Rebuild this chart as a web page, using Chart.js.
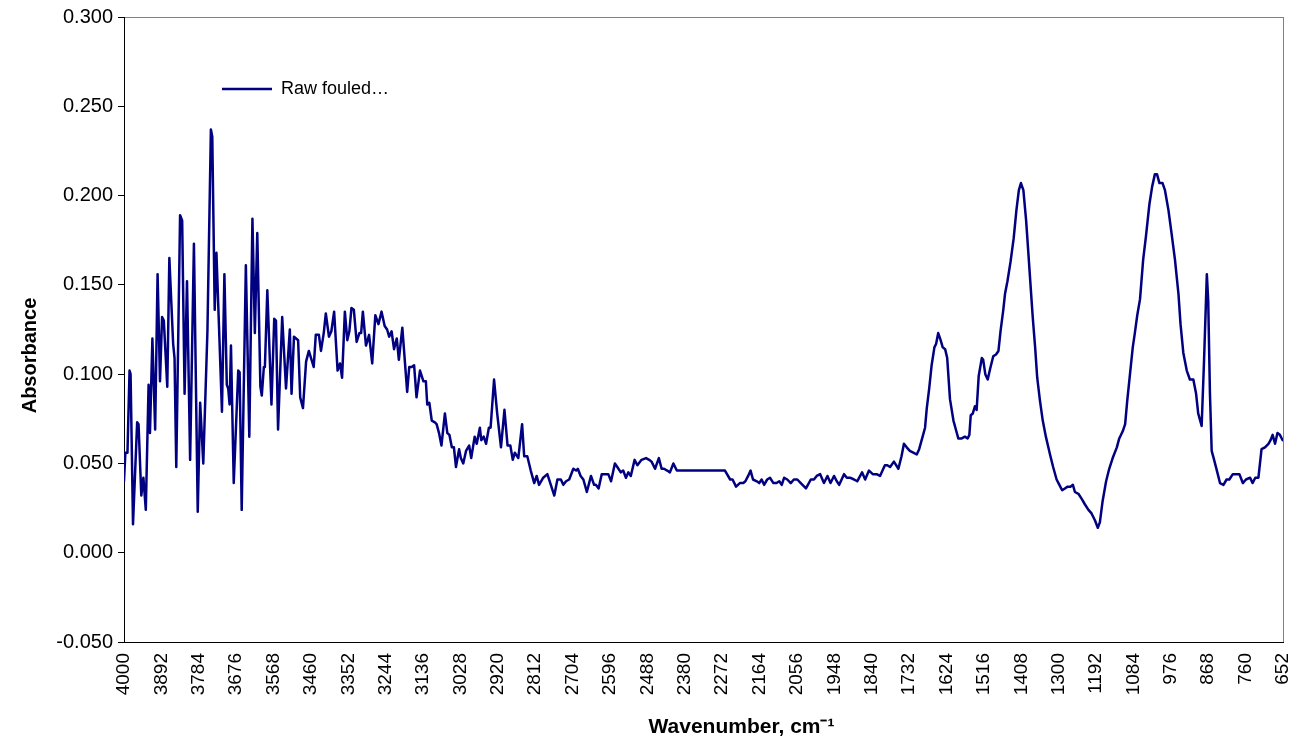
<!DOCTYPE html>
<html><head><meta charset="utf-8">
<script src="https://cdn.jsdelivr.net/npm/chart.js@4.4.1/dist/chart.umd.min.js"></script>
<style>html,body{margin:0;padding:0;background:#fff;}canvas{display:block;}</style>
</head><body>
<canvas id="c" width="1302" height="745"></canvas>
<script>
const seriesLabel = 'Raw fouled…';
const xTitle = 'Wavenumber, cm⁻¹';
const yTitle = 'Absorbance';

const wavenumber = [
4000,3996,3990,3984,3981,3974,3962,3958,3950,3944,3937,3929,3925,3918,3910,3903,3896,3890,3885,3875,
3869,3858,3854,3849,3838,3832,3825,3818,3809,3798,3787,3780,3771,3759,3749,3745,3738,3733,3717,3710,
3703,3699,3695,3691,3683,3670,3666,3660,3648,3638,3629,3622,3615,3606,3602,3596,3593,3586,3574,3566,
3561,3555,3543,3532,3521,3516,3509,3503,3497,3491,3483,3474,3466,3452,3446,3437,3431,3423,3417,3408,
3401,3393,3383,3376,3370,3362,3355,3349,3343,3336,3328,3320,3315,3310,3301,3292,3283,3274,3265,3256,
3247,3240,3234,3227,3220,3212,3206,3196,3182,3176,3169,3162,3155,3145,3135,3128,3124,3118,3111,3102,
3097,3090,3083,3073,3066,3060,3053,3047,3041,3032,3027,3020,3012,3003,2997,2987,2981,2972,2968,2961,
2954,2946,2941,2931,2922,2911,2901,2892,2884,2877,2871,2861,2850,2844,2835,2825,2815,2808,2801,2789,
2777,2767,2757,2748,2738,2731,2723,2714,2702,2694,2689,2681,2673,2663,2651,2642,2637,2629,2620,2611,
2601,2593,2582,2575,2565,2558,2550,2543,2536,2525,2517,2505,2492,2483,2476,2466,2455,2447,2440,2431,
2423,2413,2403,2399,2264,2249,2242,2232,2221,2211,2205,2197,2190,2183,2172,2165,2158,2151,2142,2134,
2124,2115,2107,2100,2093,2084,2074,2065,2055,2045,2030,2016,2007,1999,1989,1978,1968,1959,1949,1941,
1934,1920,1912,1903,1891,1882,1868,1859,1848,1837,1826,1816,1802,1795,1787,1776,1763,1754,1747,1739,
1730,1720,1710,1703,1693,1686,1681,1674,1667,1659,1654,1648,1641,1635,1628,1622,1614,1604,1597,1590,
1580,1571,1563,1558,1554,1548,1542,1537,1531,1522,1518,1512,1505,1498,1489,1481,1474,1468,1460,1455,
1448,1439,1430,1422,1415,1409,1402,1394,1388,1381,1375,1368,1362,1354,1346,1337,1325,1316,1306,1298,
1290,1282,1274,1266,1259,1253,1243,1233,1224,1214,1205,1195,1187,1181,1173,1163,1154,1144,1132,1125,
1115,1108,1102,1094,1086,1080,1073,1065,1056,1048,1038,1030,1022,1016,1009,1000,993,983,974,964,
954,948,940,930,921,911,903,897,887,880,872,868,863,858,851,843,834,824,815,807,
797,786,778,768,759,747,740,732,723,714,704,694,688,682,675,668,661,653,652
];

const absorbance = [
0.040,0.056,0.056,0.102,0.100,0.016,0.073,0.072,0.032,0.042,0.024,0.094,0.067,0.120,0.069,0.156,0.096,0.132,0.130,0.093,
0.165,0.117,0.109,0.048,0.189,0.186,0.089,0.152,0.052,0.173,0.023,0.084,0.050,0.124,0.237,0.233,0.136,0.168,0.079,0.156,
0.094,0.092,0.083,0.116,0.039,0.102,0.101,0.024,0.161,0.065,0.187,0.123,0.179,0.093,0.088,0.104,0.104,0.147,0.083,0.131,
0.130,0.069,0.132,0.092,0.125,0.089,0.121,0.120,0.119,0.087,0.081,0.107,0.113,0.104,0.122,0.122,0.113,0.123,0.134,0.121,
0.124,0.135,0.102,0.106,0.098,0.135,0.119,0.124,0.137,0.136,0.118,0.123,0.123,0.135,0.116,0.122,0.106,0.133,0.128,0.135,
0.127,0.125,0.121,0.124,0.114,0.120,0.108,0.126,0.090,0.104,0.104,0.105,0.087,0.102,0.096,0.096,0.083,0.084,0.074,0.073,
0.072,0.067,0.060,0.078,0.067,0.066,0.059,0.059,0.048,0.058,0.053,0.050,0.057,0.060,0.053,0.065,0.061,0.070,0.063,0.065,
0.061,0.070,0.070,0.097,0.078,0.059,0.080,0.060,0.060,0.052,0.056,0.053,0.072,0.054,0.054,0.046,0.039,0.043,0.038,0.042,
0.044,0.038,0.032,0.041,0.041,0.038,0.040,0.041,0.047,0.046,0.047,0.043,0.041,0.034,0.043,0.038,0.038,0.036,0.044,0.044,
0.044,0.040,0.050,0.048,0.045,0.046,0.042,0.045,0.043,0.052,0.049,0.052,0.053,0.052,0.051,0.047,0.053,0.047,0.047,0.046,
0.045,0.050,0.046,0.046,0.046,0.041,0.041,0.037,0.039,0.039,0.040,0.043,0.046,0.041,0.040,0.039,0.041,0.038,0.041,0.042,
0.039,0.039,0.040,0.038,0.042,0.041,0.039,0.041,0.041,0.039,0.036,0.041,0.041,0.043,0.044,0.039,0.043,0.039,0.043,0.040,
0.038,0.044,0.042,0.042,0.041,0.040,0.045,0.041,0.046,0.044,0.044,0.043,0.049,0.049,0.048,0.051,0.047,0.054,0.061,0.059,
0.057,0.056,0.055,0.058,0.065,0.070,0.081,0.092,0.105,0.115,0.117,0.123,0.119,0.115,0.114,0.109,0.086,0.074,0.069,0.064,
0.064,0.065,0.064,0.066,0.077,0.078,0.082,0.080,0.099,0.109,0.108,0.100,0.097,0.103,0.110,0.111,0.113,0.124,0.136,0.145,
0.152,0.163,0.176,0.192,0.203,0.207,0.203,0.186,0.169,0.149,0.132,0.115,0.098,0.085,0.074,0.065,0.055,0.048,0.041,0.038,
0.035,0.036,0.037,0.037,0.038,0.034,0.033,0.030,0.027,0.024,0.022,0.018,0.014,0.017,0.029,0.040,0.047,0.053,0.059,0.064,
0.068,0.072,0.085,0.100,0.115,0.123,0.133,0.142,0.164,0.177,0.195,0.205,0.212,0.212,0.207,0.207,0.203,0.192,0.179,0.164,
0.145,0.128,0.112,0.102,0.097,0.097,0.089,0.078,0.071,0.108,0.156,0.141,0.089,0.057,0.052,0.046,0.039,0.038,0.041,0.041,
0.044,0.044,0.044,0.039,0.041,0.042,0.039,0.042,0.042,0.058,0.059,0.061,0.063,0.066,0.061,0.067,0.066,0.063,0.063
];

const xTickValues = [4000,3892,3784,3676,3568,3460,3352,3244,3136,3028,2920,2812,2704,2596,2488,2380,
  2272,2164,2056,1948,1840,1732,1624,1516,1408,1300,1192,1084,976,868,760,652];
const yTickValues = [-0.05,0,0.05,0.10,0.15,0.20,0.25,0.30];

const FONT = "'Liberation Sans', Arial, sans-serif";

const points = wavenumber.map((w, i) => ({x: w, y: absorbance[i]}));

const layoutTweaks = {
  id: 'layoutTweaks',
  beforeDraw(chart, args, opts) {
    const {ctx, chartArea: a} = chart;
    ctx.save();
    ctx.fillStyle = '#ffffff';
    ctx.fillRect(0, 0, chart.width, chart.height);
    ctx.strokeStyle = '#808080';
    ctx.lineWidth = 1;
    ctx.strokeRect(Math.round(a.left) + 0.5, Math.round(a.top) + 0.5,
                   Math.round(a.right - a.left), Math.round(a.bottom - a.top));
    ctx.restore();
  },
  afterLayout(chart, args, opts) {
    const lg = chart.legend;
    if (lg) {
      lg.left += opts.legendDx; lg.right += opts.legendDx;
      lg.top += opts.legendDy; lg.bottom += opts.legendDy;
    }
    for (const id of ['x', 'y']) {
      const s = chart.scales[id];
      if (s && !s._titleShifted) {
        const orig = s.drawTitle;
        const sh = opts.titleShift[id];
        s.drawTitle = function () {
          const c = this.ctx;
          c.save();
          c.translate(sh[0], sh[1]);
          orig.call(this);
          c.restore();
        };
        s._titleShifted = true;
      }
    }
  }
};

new Chart(document.getElementById('c'), {
  type: 'line',
  data: {
    datasets: [{
      label: seriesLabel,
      data: points,
      borderColor: '#000080',
      backgroundColor: '#000080',
      borderWidth: 2.5,
      pointRadius: 0,
      pointHoverRadius: 0,
      tension: 0,
      fill: false,
      borderJoinStyle: 'round',
      borderCapStyle: 'round'
    }]
  },
  options: {
    responsive: false,
    animation: false,
    devicePixelRatio: 1,
    layout: {padding: {left: 0, top: 17, right: 19, bottom: 0}},
    events: [],
    plugins: {
      tooltip: {enabled: false},
      legend: {
        position: 'chartArea',
        align: 'start',
        labels: {
          usePointStyle: true,
          pointStyle: 'line',
          pointStyleWidth: 50,
          padding: 10,
          color: '#000',
          font: {family: FONT, size: 18}
        }
      },
      layoutTweaks: {legendDx: 88, legendDy: 70, titleShift: {x: [38, 0], y: [0, 26]}}
    },
    scales: {
      x: {
        type: 'linear',
        reverse: true,
        min: 652,
        max: 4000,
        afterBuildTicks: (s) => { s.ticks = xTickValues.map(v => ({value: v})); },
        afterFit: (s) => { s.height = 103; s.paddingLeft = 0; s.paddingRight = 0; },
        grid: {display: true, drawOnChartArea: false, drawTicks: false, color: '#000'},
        border: {display: true, color: '#000', width: 1},
        ticks: {
          autoSkip: false, minRotation: 90, maxRotation: 90, padding: 11,
          color: '#000', font: {family: FONT, size: 19},
          callback: (v) => String(v)
        },
        title: {display: true, text: xTitle, color: '#000',
                font: {family: FONT, size: 21, weight: 'bold'}, padding: {top: 0, bottom: 5}}
      },
      y: {
        type: 'linear',
        min: -0.05,
        max: 0.3,
        afterBuildTicks: (s) => { s.ticks = yTickValues.map(v => ({value: v})); },
        afterFit: (s) => { s.width = 124; s.paddingTop = 0; s.paddingBottom = 0; },
        grid: {display: true, drawOnChartArea: false, drawTicks: true, tickLength: 6, color: '#000'},
        border: {display: true, color: '#000', width: 1},
        ticks: {
          padding: 5, color: '#000', font: {family: FONT, size: 20},
          callback: (v) => Number(v).toFixed(3)
        },
        title: {display: true, text: yTitle, color: '#000',
                font: {family: FONT, size: 20, weight: 'bold'}, padding: {top: 18, bottom: 0}}
      }
    }
  },
  plugins: [layoutTweaks]
});
</script>
</body></html>
